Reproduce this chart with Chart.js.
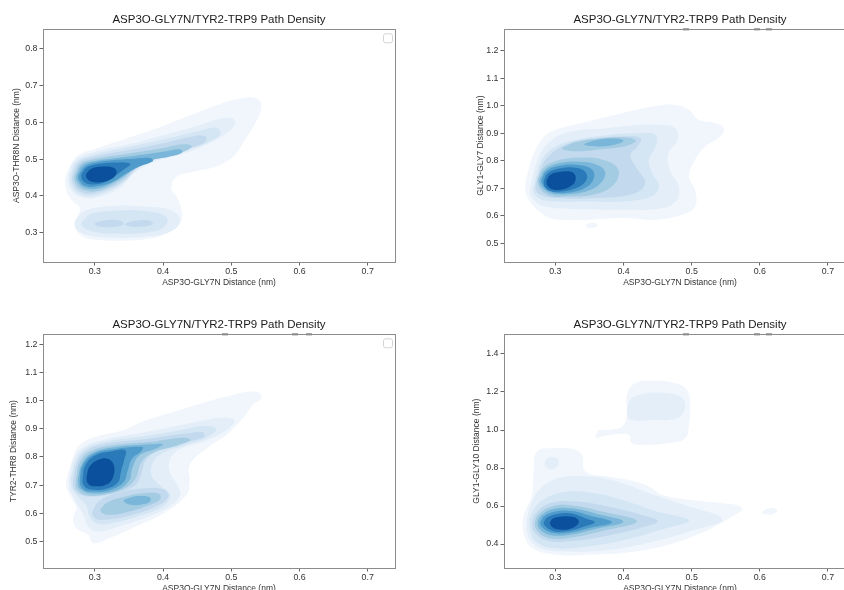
<!DOCTYPE html>
<html><head><meta charset="utf-8">
<script src="https://cdn.jsdelivr.net/npm/chart.js@4.4.1/dist/chart.umd.min.js"></script>
<style>
html,body{margin:0;padding:0;background:#fff;overflow:hidden;width:844px;height:590px;position:relative}
canvas{position:absolute;display:block}
</style></head><body>
<canvas id="c0" width="422" height="295" style="left:0;top:0"></canvas>
<canvas id="c1" width="395" height="295" style="left:461px;top:0"></canvas>
<canvas id="c2" width="422" height="306" style="left:0;top:295px"></canvas>
<canvas id="c3" width="395" height="306" style="left:461px;top:295px"></canvas>
<script>
// ---------- texts & ticks ----------
const chartTitle = 'ASP3O-GLY7N/TYR2-TRP9 Path Density';
const xLabel = 'ASP3O-GLY7N Distance (nm)';
const yLabels = ['ASP3O-THR8N Distance (nm)', 'GLY1-GLY7 Distance (nm)', 'TYR2-THR8 Distance (nm)', 'GLY1-GLY10 Distance (nm)'];
const xTicks = [0.3, 0.4, 0.5, 0.6, 0.7];
const yTicksTL = [0.3, 0.4, 0.5, 0.6, 0.7, 0.8];
const yTicksTR = [0.5, 0.6, 0.7, 0.8, 0.9, 1.0, 1.1, 1.2];
const yTicksBL = [0.5, 0.6, 0.7, 0.8, 0.9, 1.0, 1.1, 1.2];
const yTicksBR = [0.4, 0.6, 0.8, 1.0, 1.2, 1.4];

// density level colours (lowest -> highest)
const levelColors = ['#f0f6fc','#e3eef9','#d4e5f4','#c2d9ee','#a3cce3','#7ab6d9','#4f9bcb','#2a7ab9','#0b509c'];

// ---------- contour polygons [level, [[x,y],...]] ----------
const contoursTL = [
 [1, [[0.257,0.452],[0.273,0.507],[0.302,0.529],[0.346,0.556],[0.39,0.583],[0.434,0.615],[0.473,0.642],[0.503,0.66],[0.522,0.667],[0.537,0.665],[0.544,0.651],[0.542,0.624],[0.532,0.588],[0.517,0.543],[0.503,0.507],[0.478,0.48],[0.444,0.466],[0.42,0.452],[0.412,0.421],[0.42,0.398],[0.427,0.362],[0.427,0.335],[0.415,0.308],[0.385,0.286],[0.346,0.279],[0.302,0.281],[0.278,0.295],[0.271,0.326],[0.278,0.367],[0.266,0.389],[0.258,0.416]]],
 [2, [[0.261,0.455],[0.27,0.495],[0.3,0.52],[0.35,0.54],[0.4,0.565],[0.45,0.59],[0.49,0.612],[0.505,0.605],[0.5,0.58],[0.47,0.545],[0.43,0.515],[0.39,0.495],[0.36,0.465],[0.335,0.42],[0.3,0.395],[0.275,0.4],[0.263,0.425]]],
 [2, [[0.27,0.325],[0.283,0.357],[0.32,0.372],[0.37,0.372],[0.413,0.36],[0.425,0.333],[0.41,0.303],[0.37,0.289],[0.31,0.288],[0.28,0.3]]],
 [3, [[0.264,0.455],[0.273,0.492],[0.3,0.513],[0.35,0.533],[0.4,0.553],[0.45,0.575],[0.478,0.585],[0.484,0.568],[0.465,0.545],[0.43,0.522],[0.39,0.5],[0.36,0.47],[0.335,0.428],[0.3,0.401],[0.278,0.405],[0.266,0.427]]],
 [3, [[0.28,0.325],[0.293,0.35],[0.33,0.36],[0.38,0.358],[0.405,0.343],[0.403,0.318],[0.38,0.302],[0.33,0.298],[0.293,0.306]]],
 [4, [[0.267,0.455],[0.276,0.49],[0.3,0.507],[0.35,0.525],[0.4,0.543],[0.44,0.56],[0.462,0.562],[0.462,0.547],[0.44,0.53],[0.4,0.508],[0.365,0.48],[0.34,0.437],[0.3,0.407],[0.28,0.41],[0.269,0.43]]],
 [4, [[0.3,0.325],[0.315,0.334],[0.338,0.333],[0.342,0.323],[0.325,0.316],[0.306,0.318]]],
 [4, [[0.345,0.325],[0.36,0.333],[0.378,0.334],[0.385,0.325],[0.37,0.317],[0.35,0.318]]],
 [5, [[0.27,0.455],[0.279,0.487],[0.3,0.5],[0.35,0.515],[0.4,0.53],[0.43,0.54],[0.442,0.535],[0.43,0.52],[0.395,0.505],[0.365,0.485],[0.34,0.445],[0.305,0.414],[0.283,0.416],[0.272,0.433]]],
 [6, [[0.273,0.455],[0.282,0.484],[0.3,0.495],[0.35,0.507],[0.4,0.52],[0.425,0.527],[0.428,0.518],[0.41,0.507],[0.38,0.495],[0.355,0.47],[0.335,0.445],[0.305,0.42],[0.285,0.422],[0.275,0.437]]],
 [7, [[0.276,0.455],[0.285,0.48],[0.305,0.492],[0.35,0.5],[0.382,0.503],[0.385,0.494],[0.365,0.48],[0.345,0.46],[0.325,0.437],[0.3,0.425],[0.285,0.428],[0.278,0.44]]],
 [8, [[0.28,0.456],[0.288,0.477],[0.31,0.488],[0.34,0.491],[0.352,0.487],[0.345,0.475],[0.33,0.455],[0.315,0.437],[0.297,0.431],[0.284,0.438]]],
 [9, [[0.287,0.457],[0.294,0.473],[0.312,0.48],[0.328,0.476],[0.332,0.463],[0.325,0.447],[0.307,0.437],[0.292,0.441]]]
];

const contoursTR = [
 [1, [[0.256,0.695],[0.261,0.658],[0.28,0.61],[0.3,0.588],[0.349,0.586],[0.398,0.592],[0.447,0.586],[0.486,0.604],[0.505,0.634],[0.505,0.695],[0.496,0.743],[0.505,0.804],[0.52,0.852],[0.542,0.888],[0.547,0.918],[0.535,0.937],[0.51,0.949],[0.496,0.985],[0.476,1.003],[0.447,0.999],[0.398,0.973],[0.339,0.937],[0.29,0.9],[0.271,0.84],[0.26,0.76]]],
 [1, [[0.344,0.565],[0.35,0.574],[0.36,0.573],[0.362,0.563],[0.35,0.556]]],
 [2, [[0.263,0.695],[0.276,0.816],[0.295,0.876],[0.324,0.906],[0.373,0.918],[0.422,0.93],[0.456,0.93],[0.476,0.918],[0.479,0.876],[0.466,0.828],[0.468,0.767],[0.481,0.707],[0.478,0.658],[0.456,0.628],[0.398,0.622],[0.324,0.625],[0.285,0.634],[0.268,0.659]]],
 [3, [[0.268,0.695],[0.28,0.803],[0.3,0.852],[0.329,0.876],[0.378,0.894],[0.422,0.9],[0.447,0.894],[0.447,0.852],[0.437,0.803],[0.442,0.755],[0.452,0.707],[0.44,0.67],[0.398,0.652],[0.339,0.652],[0.3,0.652],[0.276,0.664]]],
 [4, [[0.271,0.7],[0.28,0.78],[0.295,0.828],[0.32,0.864],[0.359,0.882],[0.398,0.888],[0.425,0.882],[0.42,0.85],[0.41,0.822],[0.42,0.77],[0.432,0.72],[0.415,0.68],[0.36,0.665],[0.3,0.665],[0.278,0.677]]],
 [5, [[0.31,0.845],[0.33,0.868],[0.37,0.882],[0.405,0.885],[0.418,0.874],[0.405,0.855],[0.37,0.843],[0.33,0.835]]],
 [5, [[0.274,0.72],[0.281,0.77],[0.302,0.8],[0.34,0.812],[0.372,0.802],[0.392,0.77],[0.388,0.72],[0.365,0.683],[0.32,0.67],[0.288,0.677]]],
 [6, [[0.342,0.86],[0.36,0.876],[0.39,0.881],[0.4,0.872],[0.385,0.857],[0.36,0.852]]],
 [6, [[0.277,0.722],[0.284,0.765],[0.304,0.79],[0.335,0.797],[0.36,0.787],[0.373,0.76],[0.367,0.72],[0.347,0.69],[0.315,0.678],[0.29,0.685]]],
 [7, [[0.28,0.723],[0.286,0.76],[0.306,0.782],[0.334,0.785],[0.353,0.77],[0.357,0.74],[0.346,0.705],[0.318,0.684],[0.293,0.689]]],
 [8, [[0.283,0.724],[0.289,0.755],[0.308,0.773],[0.332,0.774],[0.345,0.757],[0.345,0.728],[0.33,0.7],[0.305,0.688],[0.288,0.696]]],
 [9, [[0.287,0.725],[0.292,0.748],[0.308,0.76],[0.325,0.758],[0.33,0.738],[0.325,0.712],[0.308,0.695],[0.292,0.7]]]
];

const contoursBL = [
 [1, [[0.258,0.701],[0.266,0.784],[0.278,0.843],[0.302,0.872],[0.342,0.896],[0.376,0.931],[0.425,0.967],[0.464,0.996],[0.503,1.02],[0.527,1.032],[0.542,1.026],[0.544,1.008],[0.532,0.985],[0.517,0.937],[0.493,0.878],[0.464,0.831],[0.439,0.772],[0.439,0.713],[0.434,0.665],[0.405,0.606],[0.366,0.559],[0.322,0.512],[0.298,0.494],[0.29,0.524],[0.273,0.547],[0.268,0.583],[0.273,0.618],[0.266,0.654]]],
 [2, [[0.262,0.7],[0.268,0.785],[0.283,0.835],[0.315,0.862],[0.36,0.882],[0.41,0.905],[0.455,0.928],[0.49,0.94],[0.505,0.928],[0.49,0.89],[0.46,0.855],[0.425,0.828],[0.41,0.79],[0.41,0.745],[0.42,0.705],[0.425,0.665],[0.41,0.625],[0.375,0.585],[0.335,0.553],[0.303,0.535],[0.29,0.555],[0.282,0.6],[0.27,0.65]]],
 [3, [[0.265,0.705],[0.271,0.78],[0.286,0.83],[0.32,0.857],[0.37,0.873],[0.42,0.893],[0.46,0.91],[0.478,0.9],[0.465,0.87],[0.43,0.84],[0.4,0.815],[0.385,0.78],[0.383,0.735],[0.395,0.7],[0.41,0.665],[0.4,0.625],[0.37,0.595],[0.33,0.568],[0.305,0.562],[0.293,0.585],[0.287,0.63],[0.275,0.66]]],
 [4, [[0.268,0.71],[0.274,0.78],[0.289,0.825],[0.325,0.85],[0.38,0.865],[0.43,0.882],[0.458,0.888],[0.46,0.872],[0.43,0.85],[0.395,0.825],[0.375,0.79],[0.368,0.74],[0.36,0.7],[0.335,0.675],[0.3,0.66],[0.28,0.665],[0.27,0.685]]],
 [4, [[0.296,0.6],[0.305,0.64],[0.33,0.67],[0.37,0.688],[0.4,0.685],[0.408,0.66],[0.39,0.625],[0.355,0.595],[0.32,0.578],[0.302,0.58]]],
 [5, [[0.272,0.71],[0.277,0.775],[0.292,0.818],[0.33,0.842],[0.385,0.855],[0.43,0.868],[0.44,0.86],[0.42,0.84],[0.385,0.815],[0.368,0.78],[0.36,0.725],[0.345,0.69],[0.31,0.665],[0.285,0.665],[0.274,0.685]]],
 [5, [[0.308,0.61],[0.318,0.638],[0.345,0.66],[0.375,0.672],[0.395,0.668],[0.395,0.648],[0.375,0.625],[0.345,0.603],[0.318,0.595]]],
 [6, [[0.275,0.715],[0.28,0.77],[0.295,0.812],[0.33,0.835],[0.38,0.845],[0.4,0.845],[0.39,0.83],[0.365,0.805],[0.355,0.76],[0.35,0.715],[0.33,0.68],[0.295,0.67],[0.279,0.685]]],
 [6, [[0.342,0.645],[0.352,0.656],[0.367,0.661],[0.381,0.656],[0.381,0.642],[0.37,0.632],[0.352,0.63]]],
 [7, [[0.278,0.72],[0.282,0.77],[0.298,0.81],[0.33,0.828],[0.37,0.835],[0.368,0.82],[0.355,0.795],[0.348,0.75],[0.342,0.71],[0.322,0.683],[0.293,0.677],[0.281,0.69]]],
 [8, [[0.282,0.725],[0.286,0.77],[0.3,0.805],[0.325,0.82],[0.345,0.823],[0.343,0.79],[0.338,0.745],[0.334,0.71],[0.318,0.688],[0.295,0.684],[0.284,0.698]]],
 [9, [[0.288,0.73],[0.292,0.765],[0.305,0.79],[0.32,0.793],[0.328,0.77],[0.327,0.73],[0.318,0.703],[0.3,0.696],[0.29,0.705]]]
];

const contoursBR = [
 [1, [[0.252,0.502],[0.254,0.554],[0.266,0.659],[0.268,0.782],[0.273,0.887],[0.295,0.904],[0.324,0.901],[0.339,0.869],[0.344,0.782],[0.378,0.755],[0.417,0.729],[0.442,0.694],[0.456,0.659],[0.496,0.633],[0.545,0.615],[0.569,0.603],[0.574,0.58],[0.559,0.545],[0.53,0.484],[0.496,0.432],[0.447,0.379],[0.398,0.353],[0.349,0.344],[0.3,0.344],[0.266,0.379],[0.254,0.449]]],
 [1, [[0.359,0.96],[0.364,1.0],[0.378,1.0],[0.398,1.018],[0.405,1.08],[0.405,1.185],[0.417,1.246],[0.447,1.258],[0.476,1.246],[0.493,1.211],[0.498,1.132],[0.496,1.027],[0.491,0.957],[0.467,0.931],[0.432,0.922],[0.412,0.931],[0.408,0.974],[0.388,0.978],[0.369,0.966]]],
 [1, [[0.603,0.57],[0.61,0.585],[0.62,0.588],[0.626,0.575],[0.618,0.556],[0.607,0.558]]],
 [2, [[0.258,0.512],[0.263,0.6],[0.28,0.7],[0.31,0.752],[0.35,0.755],[0.39,0.73],[0.44,0.665],[0.49,0.605],[0.545,0.53],[0.5,0.47],[0.44,0.41],[0.38,0.37],[0.32,0.36],[0.28,0.375],[0.262,0.43]]],
 [2, [[0.405,1.1],[0.41,1.16],[0.43,1.19],[0.46,1.195],[0.486,1.17],[0.49,1.11],[0.478,1.06],[0.44,1.052],[0.41,1.055]]],
 [2, [[0.284,0.82],[0.288,0.85],[0.295,0.858],[0.303,0.85],[0.305,0.82],[0.298,0.795],[0.29,0.795]]],
 [3, [[0.262,0.512],[0.267,0.575],[0.285,0.64],[0.32,0.676],[0.36,0.666],[0.4,0.63],[0.45,0.57],[0.496,0.525],[0.46,0.48],[0.4,0.42],[0.34,0.385],[0.295,0.38],[0.27,0.42]]],
 [4, [[0.266,0.512],[0.271,0.56],[0.292,0.614],[0.33,0.624],[0.38,0.595],[0.43,0.55],[0.45,0.52],[0.43,0.49],[0.37,0.44],[0.32,0.415],[0.288,0.418],[0.27,0.46]]],
 [5, [[0.27,0.512],[0.275,0.555],[0.295,0.598],[0.325,0.603],[0.37,0.57],[0.42,0.52],[0.37,0.47],[0.32,0.432],[0.29,0.432],[0.274,0.468]]],
 [6, [[0.274,0.512],[0.279,0.55],[0.297,0.585],[0.325,0.588],[0.36,0.56],[0.4,0.518],[0.36,0.48],[0.32,0.448],[0.292,0.448],[0.278,0.475]]],
 [7, [[0.278,0.512],[0.283,0.545],[0.3,0.571],[0.325,0.574],[0.35,0.55],[0.383,0.515],[0.35,0.485],[0.32,0.46],[0.295,0.46],[0.282,0.483]]],
 [8, [[0.283,0.512],[0.288,0.54],[0.305,0.56],[0.325,0.56],[0.345,0.535],[0.358,0.515],[0.345,0.495],[0.32,0.47],[0.298,0.468],[0.287,0.488]]],
 [9, [[0.292,0.512],[0.296,0.533],[0.31,0.545],[0.325,0.543],[0.334,0.525],[0.332,0.5],[0.318,0.477],[0.3,0.48],[0.294,0.495]]]
];

// ---------- drawing ----------
const FONT = "'Liberation Sans', Arial, Helvetica, sans-serif";

const framePlugin = {
  id: 'frame',
  afterDatasetsDraw(chart, args, opts) {
    const ctx = chart.ctx, a = chart.chartArea;
    ctx.save();
    ctx.fillStyle = '#a8a8a8';
    (opts.marks || []).forEach(v => {
      const px = chart.scales.x.getPixelForValue(v);
      ctx.fillRect(Math.round(px) - 3, Math.round(a.top) - 1, 6, 2.5);
    });
    ctx.strokeStyle = '#8c8c8c';
    ctx.lineWidth = 1;
    const l = Math.round(a.left) + 0.5, t = Math.round(a.top) + 0.5;
    ctx.strokeRect(l, t, Math.round(a.right) - Math.round(a.left), Math.round(a.bottom) - Math.round(a.top));
    if (opts.legendBox) {
      const x = a.right - 12, y = a.top + 4, w = 9, h = 9, r = 2;
      ctx.beginPath();
      ctx.roundRect(x + 0.5, y + 0.5, w, h, r);
      ctx.fillStyle = '#ffffff';
      ctx.fill();
      ctx.strokeStyle = '#d4d4d4';
      ctx.stroke();
    }
    ctx.restore();
  }
};

function build(id, spec) {
  const datasets = spec.contours.map(([lvl, pts]) => ({
    data: pts.concat([pts[0], pts[1]]).map(p => ({x: p[0], y: p[1]})),
    backgroundColor: levelColors[lvl - 1],
    borderColor: 'rgba(0,0,0,0)',
    borderWidth: 0,
    fill: 'shape',
    tension: 0.4,
    pointRadius: 0,
    pointHoverRadius: 0,
    order: 20 - lvl
  }));
  return new Chart(document.getElementById(id), {
    type: 'line',
    data: {datasets},
    options: {
      responsive: false,
      animation: false,
      events: [],
      layout: {padding: {left: 0, right: spec.padRight, top: 0, bottom: 0}},
      plugins: {
        legend: {display: false},
        tooltip: {enabled: false},
        title: {
          display: true, text: chartTitle, fullSize: false, color: '#1a1a1a',
          font: {family: FONT, size: 11.5, weight: 'normal', lineHeight: 1.2},
          padding: {top: spec.titleTop, bottom: 2.3}
        },
        frame: {legendBox: spec.legendBox, marks: spec.marks}
      },
      scales: {
        x: {
          type: 'linear', min: spec.xMin, max: spec.xMax,
          afterBuildTicks: s => { s.ticks = xTicks.map(v => ({value: v})); },
          afterFit: s => { s.height = 33; },
          ticks: {font: {family: FONT, size: 8.8}, color: '#333', padding: 1, maxRotation: 0, callback: v => Number(v).toFixed(1)},
          grid: {drawOnChartArea: false, drawTicks: true, tickLength: 3.5, color: '#666'},
          border: {display: false},
          title: {display: true, text: xLabel, color: '#333', font: {family: FONT, size: 8.5}, padding: {top: 0, bottom: 7.5}}
        },
        y: {
          type: 'linear', min: spec.yMin, max: spec.yMax,
          afterBuildTicks: s => { s.ticks = spec.yTicks.map(v => ({value: v})); },
          afterFit: s => { s.width = 43; },
          ticks: {font: {family: FONT, size: 8.8}, color: '#333', padding: 2, callback: v => Number(v).toFixed(1)},
          grid: {drawOnChartArea: false, drawTicks: true, tickLength: 3.5, color: '#666'},
          border: {display: false},
          title: {display: true, text: spec.yLabel, color: '#333', font: {family: FONT, size: 8.5}, padding: {top: spec.yTitlePad, bottom: 0}}
        }
      }
    },
    plugins: [framePlugin]
  });
}

build('c0', {contours: contoursTL, xMin: 0.224, xMax: 0.74, yMin: 0.221, yMax: 0.852, yTicks: yTicksTL,
  padRight: 27, titleTop: 13.2, yTitlePad: 11.6, yLabel: yLabels[0], legendBox: true, marks: []});
build('c1', {contours: contoursTR, xMin: 0.2247, xMax: 0.7411, yMin: 0.4325, yMax: 1.2776, yTicks: yTicksTR,
  padRight: 0, titleTop: 13.2, yTitlePad: 14.2, yLabel: yLabels[1], legendBox: false, marks: [0.492, 0.596, 0.614]});
build('c2', {contours: contoursBL, xMin: 0.224, xMax: 0.74, yMin: 0.4057, yMax: 1.2355, yTicks: yTicksBL,
  padRight: 27, titleTop: 23.2, yTitlePad: 8.9, yLabel: yLabels[2], legendBox: true, marks: [0.491, 0.594, 0.614]});
build('c3', {contours: contoursBR, xMin: 0.2247, xMax: 0.7411, yMin: 0.274, yMax: 1.5035, yTicks: yTicksBR,
  padRight: 0, titleTop: 23.2, yTitlePad: 10.9, yLabel: yLabels[3], legendBox: false, marks: [0.492, 0.596, 0.614]});
</script>
</body></html>
